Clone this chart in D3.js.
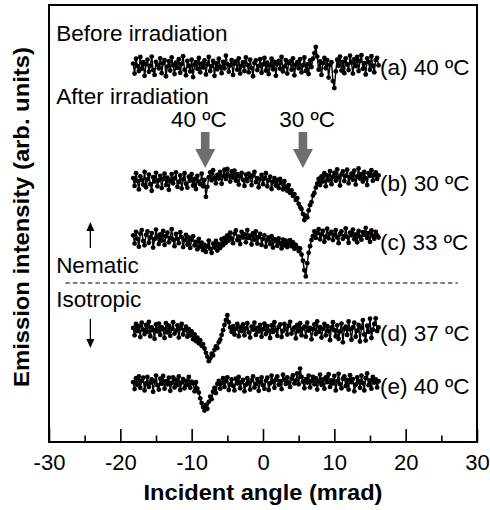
<!DOCTYPE html>
<html>
<meta charset="utf-8">
<head>
<title>emission intensity vs incident angle</title>
<script src="https://cdn.jsdelivr.net/npm/d3@7/dist/d3.min.js" charset="utf-8"></script>
<style>
body { margin: 0; background: #fff; }
text { font-family: "Liberation Sans", Arial, sans-serif; fill: #000; }
</style>
</head>
<body>
<script type="text/javascript">
// incident angle (mrad), shared by all scans
var angles = [-18.2, -18.0, -17.8, -17.6, -17.4, -17.2, -17.0, -16.8, -16.6, -16.4,
	-16.2, -16.0, -15.8, -15.6, -15.4, -15.2, -15.0, -14.8, -14.6, -14.4,
	-14.2, -14.0, -13.8, -13.6, -13.4, -13.2, -13.0, -12.8, -12.6, -12.4,
	-12.2, -12.0, -11.8, -11.6, -11.4, -11.2, -11.0, -10.8, -10.6, -10.4,
	-10.2, -10.0, -9.8, -9.6, -9.4, -9.2, -9.0, -8.8, -8.6, -8.4,
	-8.2, -8.0, -7.8, -7.6, -7.4, -7.2, -7.0, -6.8, -6.6, -6.4,
	-6.2, -6.0, -5.8, -5.6, -5.4, -5.2, -5.0, -4.8, -4.6, -4.4,
	-4.2, -4.0, -3.8, -3.6, -3.4, -3.2, -3.0, -2.8, -2.6, -2.4,
	-2.2, -2.0, -1.8, -1.6, -1.4, -1.2, -1.0, -0.8, -0.6, -0.4,
	-0.2, 0.0, 0.2, 0.4, 0.6, 0.8, 1.0, 1.2, 1.4, 1.6,
	1.8, 2.0, 2.2, 2.4, 2.6, 2.8, 3.0, 3.2, 3.4, 3.6,
	3.8, 4.0, 4.2, 4.4, 4.6, 4.8, 5.0, 5.2, 5.4, 5.6,
	5.8, 6.0, 6.2, 6.4, 6.6, 6.8, 7.0, 7.2, 7.4, 7.6,
	7.8, 8.0, 8.2, 8.4, 8.6, 8.8, 9.0, 9.2, 9.4, 9.6,
	9.8, 10.0, 10.2, 10.4, 10.6, 10.8, 11.0, 11.2, 11.4, 11.6,
	11.8, 12.0, 12.2, 12.4, 12.6, 12.8, 13.0, 13.2, 13.4, 13.6,
	13.8, 14.0, 14.2, 14.4, 14.6, 14.8, 15.0, 15.2, 15.4, 15.6,
	15.8, 16.0, 16.2];

// intensity deviation of each scan (arb. units)
var scanA = [0.8, -1.5, 1.9, 0.2, -0.9, 2.3, -0.4, 1.1, -2.0, 0.6,
	1.7, -1.1, 0.3, 2.4, -0.7, -1.8, 1.2, 0.5, -0.3, 2.0,
	-1.4, 0.9, 1.6, -2.1, 0.1, 1.3, -0.8, 2.2, 0.4, -1.6,
	1.0, -0.2, 1.8, -1.3, 0.7, 2.5, -0.6, -1.9, 1.4, 0.3,
	-1.0, 1.7, -2.3, 0.5, 1.1, -0.4, 2.1, -1.2, 0.8, -0.1,
	1.5, -1.7, 0.6, 2.3, -0.9, 0.2, 1.4, -2.0, 0.9, -0.5,
	1.9, 0.1, -1.4, 1.2, -0.3, 2.6, 0.7, -1.1, 0.4, 1.6,
	-1.8, 0.8, 1.3, -0.6, 2.0, -1.5, 0.3, 1.1, -0.9, 2.2,
	0.5, -1.2, 1.7, -0.2, -2.1, 0.9, 1.5, -0.7, 0.2, 1.8,
	-1.3, 0.6, 2.1, -0.8, 1.0, -1.6, 0.4, 1.9, -0.5, 1.2,
	-2.0, 0.7, 1.4, -0.4, 2.3, -1.0, 0.1, 1.6, -1.5, 0.9,
	1.3, -0.6, 2.0, -1.9, 0.5, 1.1, -0.3, 1.8, -1.2, 0.4,
	2.2, -0.9, 0.6, -1.6, 1.5, 0.0, 1.9, 3.2, 4.6, 2.4,
	-0.6, 1.3, -1.8, 0.9, 2.1, -0.3, 1.6, -2.4, 0.5, 1.1,
	-3.2, -4.8, -1.0, 1.7, 0.3, 2.4, -0.8, 1.2, -1.4, 2.0,
	0.6, -0.7, 2.6, 1.0, -1.5, 1.8, 0.2, 2.3, -0.9, 1.4,
	2.7, -0.4, 0.9, -1.7, 2.0, 1.1, -0.6, 2.5, 0.3, -1.2,
	1.6, 2.1, 0.4];
var scanB = [1.0, -0.8, 2.1, 0.3, -1.6, 1.4, 0.6, -0.5, 2.4, -1.1,
	0.7, 1.8, -0.4, -1.9, 1.2, 0.2, 2.2, -0.9, 0.5, 1.5,
	-1.3, 0.8, 2.0, -0.6, 1.1, -1.7, 0.4, 1.9, -0.2, 0.9,
	2.3, -1.0, 0.1, 1.6, -1.4, 0.7, 2.1, -0.3, -1.2, 1.3,
	0.4, 1.9, -0.7, 0.8, -1.5, 1.5, 0.2, -0.4, 2.0, -0.9,
	0.6, -3.3, -1.0, 1.2, 2.3, 0.5, 2.8, 1.0, -0.2, 1.7,
	0.9, 2.4, -0.3, 1.5, 2.9, 0.8, 3.1, 1.6, 0.2, 2.5,
	1.1, 2.7, 0.4, 1.9, -0.5, 1.4, 2.2, 0.6, -0.8, 1.8,
	0.3, 2.0, 1.2, -0.6, 1.6, 2.4, 0.1, 1.0, -1.1, 0.7,
	1.7, -0.4, 0.9, 2.1, -0.9, 0.5, 1.3, -1.5, 0.2, 1.0,
	-0.7, 0.6, -1.3, 0.8, -0.2, -1.6, 0.3, -1.0, -1.9, -0.6,
	-2.4, -1.8, -3.1, -2.7, -4.0, -3.6, -4.9, -5.6, -6.1, -7.2,
	-8.6, -7.6, -8.0, -6.4, -5.2, -4.5, -3.0, -2.4, -1.2, -0.3,
	0.8, -0.6, 1.4, 0.2, 2.1, -0.9, 1.6, 0.5, 2.6, -0.4,
	1.3, 2.2, 0.4, 3.0, 1.1, -0.7, 1.8, 2.5, 0.3, 1.5,
	2.9, -0.2, 1.2, 2.0, 0.6, 2.7, -0.5, 1.4, 3.2, 0.9,
	1.9, 0.2, 2.4, 1.0, -0.6, 2.1, 1.5, 2.8, 0.4, 1.7,
	2.3, 0.8, 1.6];
var scanC = [1.4, -0.5, 2.2, 0.6, -1.2, 1.8, 2.6, 0.1, -0.9, 1.5,
	2.3, -0.3, 0.9, 1.9, -1.4, 0.5, 2.7, 1.1, -0.6, 1.6,
	0.2, 2.4, -0.8, 1.2, 2.0, -0.2, 0.8, 2.8, 0.4, -1.1,
	1.7, 0.6, -0.4, 2.1, 1.0, -1.3, 0.3, 1.5, -0.7, 0.9,
	-1.5, 0.4, 1.2, -0.9, -0.1, -1.8, 0.6, -1.2, -0.3, -2.0,
	-0.8, -2.4, -1.1, 0.2, -1.7, -2.6, -0.5, -1.4, 0.1, -2.1,
	-0.6, -1.5, 0.5, -0.9, 0.8, -0.3, 1.4, 0.2, 2.0, 0.7,
	-0.4, 1.8, 2.5, 0.3, 1.1, -0.6, 2.2, 0.9, 1.6, -0.2,
	2.6, 0.8, 1.3, -0.7, 1.9, 0.4, 2.3, -0.5, 1.0, 1.7,
	-0.8, 0.6, 1.4, -1.2, 0.3, 0.9, -0.6, 1.2, -1.4, 0.5,
	0.1, -1.0, 0.7, -0.4, -1.6, 0.4, -0.9, 0.2, -1.3, -0.5,
	0.3, -1.1, -0.2, -1.7, -0.8, -1.4, -2.2, -1.6, -3.0, -4.4,
	-6.6, -8.0, -5.0, -2.6, -1.1, 0.3, 1.2, 2.3, 0.8, 1.9,
	2.8, 0.5, 1.6, 2.4, -0.1, 1.1, 2.9, 0.7, 1.8, 2.2,
	0.3, 1.5, 2.6, 0.9, -0.4, 1.7, 2.3, 0.6, 1.2, 3.0,
	1.0, -0.3, 2.0, 1.4, 2.7, 0.5, 1.6, -0.2, 2.4, 1.1,
	0.4, 2.1, 1.5, 3.1, 0.8, 1.9, -0.1, 2.5, 1.3, 0.6,
	2.2, 1.4, 0.9];
var scanD = [1.1, -0.6, 2.0, 0.4, 1.5, -1.0, 2.3, 0.7, -0.3, 1.8,
	0.2, 2.5, -0.8, 1.2, 0.6, -1.4, 1.9, 0.3, 2.1, -0.5,
	1.3, 0.8, -1.2, 2.2, 0.1, 1.6, -0.7, 0.9, 2.4, -0.2,
	0.5, 1.7, -1.1, 1.0, 2.0, -0.4, 0.6, 1.4, -0.9, 0.8,
	-0.6, 0.3, -1.5, -0.4, -1.9, -1.1, -2.4, -1.7, -3.0, -2.6,
	-3.6, -4.6, -5.5, -6.5, -5.9, -4.8, -5.2, -3.9, -3.1, -3.5,
	-2.2, -1.6, -0.5, 0.6, 1.8, 2.9, 4.0, 2.4, 1.2, 0.2,
	1.5, -0.4, 0.9, 2.0, -0.8, 1.3, 0.4, 1.9, -0.6, 1.0,
	2.2, 0.1, -1.1, 1.4, 0.7, 2.3, -0.5, 1.1, 0.3, 1.8,
	-0.9, 0.8, 2.1, -0.3, 1.5, 0.5, -1.2, 1.7, 0.2, 2.4,
	0.6, -0.7, 1.3, 1.9, -1.0, 0.4, 2.0, 0.9, -0.4, 1.6,
	2.5, -0.2, 0.7, 1.2, -1.3, 1.8, 0.3, 2.2, -0.6, 1.0,
	1.4, -0.9, 2.3, 0.5, 1.1, -1.5, 0.8, 1.9, -0.3, 2.6,
	0.2, 1.3, -1.1, 0.9, 2.0, -0.6, 1.5, 0.4, -1.7, 1.2,
	2.4, 0.6, -0.8, 1.7, -1.4, 0.3, 2.1, -2.2, 0.9, 1.4,
	-0.5, 2.6, 0.8, -1.6, 1.2, 2.3, -0.9, 0.5, 1.8, -2.0,
	1.1, 2.9, -0.4, -1.8, 1.6, 0.2, 3.2, -1.2, 0.7, 2.0,
	3.3, 0.4, 1.2];
var scanE = [0.9, -0.7, 1.8, 0.3, 2.2, -0.4, 1.2, 1.9, -1.0, 0.6,
	2.1, -0.2, 0.8, 1.5, -1.3, 1.0, 2.4, 0.2, -0.8, 1.7,
	0.5, 2.3, -0.6, 1.1, 0.4, 1.9, -1.1, 0.7, 2.0, -0.3,
	1.4, 0.2, 2.2, -0.9, 0.8, 1.6, -0.5, 1.2, 0.3, 2.1,
	-0.4, 1.0, 0.6, -1.2, 0.9, -0.6, -1.5, -2.8, -3.9, -4.8,
	-5.6, -4.3, -5.2, -3.6, -2.4, -3.0, -1.3, -0.4, -1.6, 0.5,
	1.2, -0.6, 0.7, 1.8, -0.2, 1.1, 2.0, -0.9, 0.4, 1.5,
	0.1, -1.0, 1.7, 0.6, 2.1, -0.5, 0.9, 1.4, -1.2, 0.3,
	1.8, 0.7, -0.8, 1.3, 2.2, -0.3, 0.5, 1.6, -1.1, 0.9,
	2.0, 0.2, -0.6, 1.2, 1.9, -0.9, 0.6, 2.4, 1.0, -0.4,
	1.5, 2.2, 0.3, 1.1, -0.7, 2.6, 1.4, 0.5, 2.0, 0.8,
	-0.2, 1.7, 2.5, 0.6, 1.3, 2.9, 0.4, 4.0, 2.1, 1.0,
	-0.5, 1.6, 0.8, 2.4, -0.3, 1.2, 2.1, 0.4, 1.8, -0.8,
	1.0, 2.6, 0.3, 1.5, -0.6, 2.0, 0.9, 2.7, -0.2, 1.3,
	0.6, 2.3, -1.0, 1.1, 2.8, 0.4, -0.5, 1.7, 2.2, 0.0,
	1.4, -0.8, 2.5, 0.9, 1.6, -1.2, 0.3, 2.0, 1.1, -0.4,
	2.4, 0.7, -1.0, 1.8, 2.9, 0.2, 1.3, -0.6, 2.1, 0.8,
	1.5, -0.3, 1.1];

var scans = [scanA, scanB, scanC, scanD, scanE];
var scanOffsets = [85.8, 59.4, 45.9, 25.0, 12.8];
var scanLabels = ["(a) 40 ºC", "(b) 30 ºC", "(c) 33 ºC", "(d) 37 ºC", "(e) 40 ºC"];
var markAngles = [-8.1, 5.6];
var markLabelAngles = [-9.0, 6.2];
var markLabels = ["40 ºC", "30 ºC"];
var majorTicks = [-30, -20, -10, 0, 10, 20, 30];
var minorTicks = [-25, -15, -5, 5, 15, 25];

scans.forEach(function(s, k) {
	if (s.length !== angles.length) throw new Error('scan ' + k + ' has ' + s.length + ' points');
});

var margin = {top: 5, right: 13, bottom: 68, left: 49},
	width = 490 - margin.left - margin.right,
	height = 510 - margin.top - margin.bottom;

var svg = d3.select('body').append('svg')
	.attr('width', 490)
	.attr('height', 510);
var g = svg.append('g')
	.attr('transform', 'translate(' + margin.left + ',' + margin.top + ')');

var x = d3.scaleLinear().domain([-30, 30]).range([0, width]);
var y = d3.scaleLinear().domain([0, 100]).range([height, 0]);

// axis ticks point inward
var minorAxis = d3.axisBottom(x).tickValues(minorTicks).tickSize(-6.5).tickFormat('');
g.append('g').attr('transform', 'translate(0,' + height + ')').call(minorAxis)
	.call(function(s) { s.select('.domain').remove(); });
var majorAxis = d3.axisBottom(x).tickValues(majorTicks).tickSizeInner(-13).tickSizeOuter(0)
	.tickPadding(12).tickFormat(function(d) { return String(d); });
var xa = g.append('g').attr('transform', 'translate(0,' + height + ')').call(majorAxis);
xa.select('.domain').remove();
xa.selectAll('.tick text').style('font-size', '22px').style('font-family', '"Liberation Sans", Arial, sans-serif');
g.selectAll('.tick line').attr('stroke', '#000').attr('stroke-width', 1.6);

g.append('rect')
	.attr('width', width).attr('height', height)
	.attr('fill', 'none').attr('stroke', '#000').attr('stroke-width', 2);

// scans
var line = d3.line()
	.x(function(d, i) { return x(angles[i]); })
	.y(function(d) { return d; });

scans.forEach(function(scan, k) {
	var pts = scan.map(function(v) { return y(scanOffsets[k] + v); });
	var sg = g.append('g');
	sg.append('path').datum(pts)
		.attr('d', line)
		.attr('fill', 'none').attr('stroke', '#000').attr('stroke-width', 1.4);
	sg.selectAll('circle').data(pts).enter().append('circle')
		.attr('cx', function(d, i) { return x(angles[i]); })
		.attr('cy', function(d) { return d; })
		.attr('r', 2.4).attr('fill', '#000');
	g.append('text')
		.attr('x', x(16.4)).attr('y', y(scanOffsets[k]))
		.attr('dy', '0.36em')
		.style('font-size', '22.5px')
		.text(scanLabels[k]);
});

// notes
function note(txt, xv, yp) {
	g.append('text').attr('x', x(xv)).attr('y', yp - margin.top)
		.style('font-size', '22.5px').text(txt);
}
note('Before irradiation', -29.0, 41);
note('After irradiation', -29.0, 104);
note('Nematic', -29.0, 273);
note('Isotropic', -29.0, 307);

// marked temperatures with grey arrows
markAngles.forEach(function(a, k) {
	var cx = x(a), top = 132 - margin.top, neck = 149 - margin.top, tip = 168 - margin.top;
	g.append('text').attr('x', x(markLabelAngles[k])).attr('y', 127 - margin.top)
		.attr('text-anchor', 'middle').style('font-size', '22.5px')
		.text(markLabels[k]);
	g.append('path')
		.attr('d', 'M' + (cx - 4.3) + ',' + top + 'H' + (cx + 4.3) + 'V' + neck +
			'H' + (cx + 10) + 'L' + cx + ',' + tip + 'L' + (cx - 10) + ',' + neck +
			'H' + (cx - 4.3) + 'Z')
		.attr('fill', '#6e6e6e');
});

// phase arrows
var ax = x(-24.2);
g.append('line').attr('x1', ax).attr('x2', ax).attr('y1', 248 - margin.top).attr('y2', 228 - margin.top)
	.attr('stroke', '#000').attr('stroke-width', 1.3);
g.append('path').attr('d', 'M' + (ax - 4) + ',' + (231 - margin.top) + 'L' + ax + ',' + (222 - margin.top) +
	'L' + (ax + 4) + ',' + (231 - margin.top) + 'Z').attr('fill', '#000');
g.append('line').attr('x1', ax).attr('x2', ax).attr('y1', 319 - margin.top).attr('y2', 342 - margin.top)
	.attr('stroke', '#000').attr('stroke-width', 1.3);
g.append('path').attr('d', 'M' + (ax - 4) + ',' + (339 - margin.top) + 'L' + ax + ',' + (348 - margin.top) +
	'L' + (ax + 4) + ',' + (339 - margin.top) + 'Z').attr('fill', '#000');

g.append('line')
	.attr('x1', x(-27.7)).attr('x2', x(27.3))
	.attr('y1', 283 - margin.top).attr('y2', 283 - margin.top)
	.attr('stroke', '#000').attr('stroke-width', 1.2).attr('stroke-dasharray', '4.5,3');

// axis titles, stretched to the measured length of the original
function title(txt, px, py, rot, len) {
	var t = svg.append('text')
		.attr('text-anchor', 'middle')
		.style('font-size', '22px').style('font-weight', 'bold')
		.text(txt);
	var w = t.node().getComputedTextLength();
	t.attr('transform', 'translate(' + px + ',' + py + ') rotate(' + rot + ') scale(' + (len / w) + ',1)');
}
title('Incident angle (mrad)', margin.left + x(0), 500, 0, 239);
title('Emission intensity (arb. units)', 29, 217, -90, 340);
</script>
</body>
</html>
